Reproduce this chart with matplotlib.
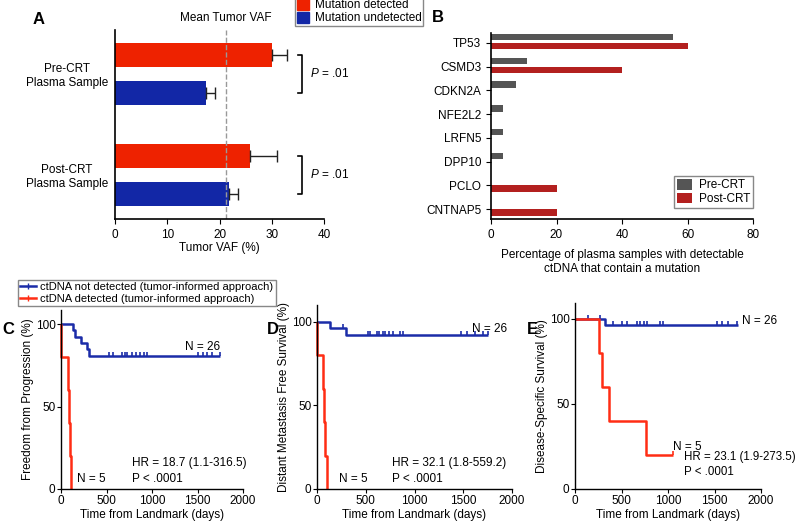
import matplotlib
matplotlib.use('Agg')
import matplotlib.pyplot as plt
import numpy as np
from matplotlib.patches import Patch
from matplotlib.lines import Line2D

plt.rcParams['font.family'] = ['Liberation Sans', 'DejaVu Sans']
plt.rcParams['font.size'] = 8.5
plt.rcParams['mathtext.fontset'] = 'custom'
plt.rcParams['mathtext.it'] = 'Liberation Sans:italic'
plt.rcParams['mathtext.rm'] = 'Liberation Sans'

# panel A data
a_groups = ['Pre-CRT\nPlasma Sample', 'Post-CRT\nPlasma Sample']
a_detected = [30.0, 25.8]
a_detected_err = [3.0, 5.3]
a_undetected = [17.5, 21.8]
a_undetected_err = [1.7, 1.8]
a_mean_vaf = 21.3
a_pvals = ['.01', '.01']

# panel B data
b_genes = ['TP53', 'CSMD3', 'CDKN2A', 'NFE2L2', 'LRFN5', 'DPP10', 'PCLO', 'CNTNAP5']
b_pre = [55.5, 11.0, 7.5, 3.7, 3.7, 3.7, 0, 0]
b_post = [60.0, 40.0, 0, 0, 0, 0, 20.0, 20.0]

# Kaplan-Meier step data (time in days, survival %)
c_neg_t = [0, 128, 154, 216, 282, 311, 1750]
c_neg_s = [100, 96.2, 92.3, 88.5, 84.6, 80.8, 80.8]
c_neg_cens = [527, 571, 670, 700, 730, 780, 820, 868, 910, 940, 1510, 1560, 1605, 1660, 1750]
c_pos_t = [0, 2, 73, 90, 100, 115]
c_pos_s = [100, 80, 60, 40, 20, 0]

d_neg_t = [0, 133, 294, 1750]
d_neg_s = [100, 96.2, 92.3, 92.3]
d_neg_cens = [270, 526, 544, 612, 640, 680, 700, 740, 780, 851, 882, 1480, 1540, 1620, 1700, 1750]
d_pos_t = [0, 5, 58, 72, 85, 99]
d_pos_s = [100, 80, 60, 40, 20, 0]

e_neg_t = [0, 322, 1750]
e_neg_s = [100, 96.2, 96.2]
e_neg_cens = [143, 269, 412, 502, 556, 663, 700, 740, 770, 914, 946, 1523, 1580, 1650, 1738]
e_pos_t = [0, 258, 294, 366, 760, 1057]
e_pos_s = [100, 80, 60, 40, 20, 20]
e_pos_cens = [1057]

RED = '#EE2200'
BLUE = '#1227A6'
KM_RED = '#FF2D14'
KM_BLUE = '#1B2CA8'

fig = plt.figure(figsize=(8, 5.24), dpi=100)

# ---------------- Panel A ----------------
axA = fig.add_axes([0.14375, 0.5821, 0.26125, 0.3607])
pos = np.arange(len(a_groups))
off = 0.19
h = 0.24
axA.barh(pos - off, a_detected, height=h, color=RED)
axA.barh(pos + off, a_undetected, height=h, color=BLUE)
axA.errorbar(a_detected, pos - off, xerr=[np.zeros(2), a_detected_err], fmt='none',
             ecolor='#222222', elinewidth=1, capsize=4, capthick=1)
axA.errorbar(a_undetected, pos + off, xerr=[np.zeros(2), a_undetected_err], fmt='none',
             ecolor='#222222', elinewidth=1, capsize=4, capthick=1)
axA.axvline(a_mean_vaf, color='#999999', ls='--', lw=1)
axA.text(a_mean_vaf, -0.5, 'Mean Tumor VAF', ha='center', va='bottom', fontsize=8.5)
for i, p in enumerate(a_pvals):
    bx = 35.8
    axA.plot([bx - 0.8, bx, bx, bx - 0.8], [i - 0.19, i - 0.19, i + 0.19, i + 0.19],
             color='black', lw=1.2, clip_on=False)
    axA.text(bx + 1.5, i, r'$\it{P}$ = ' + p, va='center', ha='left', fontsize=8.5)
axA.set_ylim(1.436, -0.436)
axA.set_xlim(0, 40)
axA.set_yticks(pos)
axA.set_yticklabels(a_groups, fontsize=8.5, ha='right', multialignment='center')
axA.tick_params(axis='y', length=0, pad=5)
axA.set_xticks([0, 10, 20, 30, 40])
axA.set_xlabel('Tumor VAF (%)', fontsize=8.5, labelpad=1)
for s in ['top', 'right']:
    axA.spines[s].set_visible(False)
axA.spines['left'].set_linewidth(1.2)
axA.spines['bottom'].set_linewidth(1.2)
fig.text(0.041, 0.962, 'A', fontsize=12, fontweight='bold', ha='left', va='center')

fig.legend(handles=[Patch(color=RED, label='Mutation detected'),
                    Patch(color=BLUE, label='Mutation undetected')],
           loc='upper left', bbox_to_anchor=(0.369, 1.005), fontsize=8.5,
           frameon=True, fancybox=False, edgecolor='#888888', framealpha=1,
           handlelength=1.0, handleheight=1.0, handletextpad=0.5,
           borderpad=0.15, labelspacing=0.05, borderaxespad=0)

# ---------------- Panel B ----------------
axB = fig.add_axes([0.61375, 0.5821, 0.3275, 0.355])
gp = np.arange(len(b_genes))
axB.barh(gp - 0.24, b_pre, height=0.27, color='#555555', label='Pre-CRT')
axB.barh(gp + 0.14, b_post, height=0.27, color='#B3201F', label='Post-CRT')
axB.set_ylim(7.42, -0.42)
axB.set_xlim(0, 80)
axB.set_yticks(gp)
axB.set_yticklabels(b_genes, fontsize=8.5)
axB.set_xticks([0, 20, 40, 60, 80])
axB.set_xlabel('Percentage of plasma samples with detectable\nctDNA that contain a mutation',
               fontsize=8.5, labelpad=6)
for s in ['top', 'right']:
    axB.spines[s].set_visible(False)
axB.spines['left'].set_linewidth(1.2)
axB.spines['bottom'].set_linewidth(1.2)
axB.legend(loc='lower right', bbox_to_anchor=(1.0, 0.06), fontsize=8.5, frameon=True,
           fancybox=False, edgecolor='#888888', framealpha=1, handlelength=1.2,
           handleheight=1.0, borderpad=0.25, labelspacing=0.1, handletextpad=0.6,
           borderaxespad=0)
fig.text(0.54, 0.966, 'B', fontsize=12, fontweight='bold', ha='left', va='center')


# ---------------- KM panels ----------------
def km(ax, t, s, color, cens=None):
    ax.step(t, s, where='post', color=color, lw=1.8, clip_on=False, solid_capstyle='butt')
    if cens:
        sv = [s[np.searchsorted(t, c, side='right') - 1] for c in cens]
        ax.plot(cens, np.array(sv) + 1.2, ls='none', marker='|', ms=3.5, mew=1.2, color=color)


def km_axes(ax, ylabel, ytop):
    ax.set_xlim(0, 2000)
    ax.set_ylim(0, ytop)
    ax.set_xticks([0, 500, 1000, 1500, 2000])
    ax.set_yticks([0, 50, 100])
    ax.set_xlabel('Time from Landmark (days)', fontsize=8.5, labelpad=2)
    ax.set_ylabel(ylabel, fontsize=8.5, labelpad=1)
    ax.tick_params(labelsize=8.5, length=3, pad=1)
    for sp in ['top', 'right']:
        ax.spines[sp].set_visible(False)
    ax.spines['left'].set_linewidth(1.0)
    ax.spines['bottom'].set_linewidth(1.0)


axC = fig.add_axes([0.07625, 0.0668, 0.2275, 0.3416])
km(axC, c_neg_t, c_neg_s, KM_BLUE, c_neg_cens)
km(axC, c_pos_t, c_pos_s, KM_RED)
km_axes(axC, 'Freedom from Progression (%)', 108.5)
axC.text(1360, 84, 'N = 26')
axC.text(180, 4, 'N = 5')
axC.text(780, 14, 'HR = 18.7 (1.1-316.5)')
axC.text(780, 4, 'P < .0001')
fig.text(0.003, 0.372, 'C', fontsize=12, fontweight='bold', ha='left', va='center')

axD = fig.add_axes([0.39625, 0.0668, 0.24375, 0.351])
km(axD, d_neg_t, d_neg_s, KM_BLUE, d_neg_cens)
km(axD, d_pos_t, d_pos_s, KM_RED)
km_axes(axD, 'Distant Metastasis Free Survival (%)', 110)
axD.text(1590, 94, 'N = 26')
axD.text(230, 4, 'N = 5')
axD.text(770, 14, 'HR = 32.1 (1.8-559.2)')
axD.text(770, 4, 'P < .0001')
fig.text(0.333, 0.372, 'D', fontsize=12, fontweight='bold', ha='left', va='center')

axE = fig.add_axes([0.71875, 0.0668, 0.2325, 0.355])
km(axE, e_neg_t, e_neg_s, KM_BLUE, e_neg_cens)
km(axE, e_pos_t, e_pos_s, KM_RED, e_pos_cens)
km_axes(axE, 'Disease-Specific Survival (%)', 109.4)
axE.text(1800, 97, 'N = 26')
axE.text(1050, 23, 'N = 5')
axE.text(1175, 17, 'HR = 23.1 (1.9-273.5)', fontsize=8.3, clip_on=False)
axE.text(1175, 8, 'P < .0001', fontsize=8.3)
fig.text(0.658, 0.372, 'E', fontsize=12, fontweight='bold', ha='left', va='center')

fig.legend(handles=[Line2D([], [], color=KM_BLUE, lw=1.8, marker='|', ms=4,
                           label='ctDNA not detected (tumor-informed approach)'),
                    Line2D([], [], color=KM_RED, lw=1.8, marker='|', ms=4,
                           label='ctDNA detected (tumor-informed approach)')],
           loc='upper left', bbox_to_anchor=(0.0225, 0.466), fontsize=8,
           frameon=True, fancybox=False, edgecolor='#888888', framealpha=1,
           handlelength=1.4, borderpad=0.2, labelspacing=0.15, handletextpad=0.4,
           borderaxespad=0, numpoints=1)

fig.savefig('out.png', dpi=100)
